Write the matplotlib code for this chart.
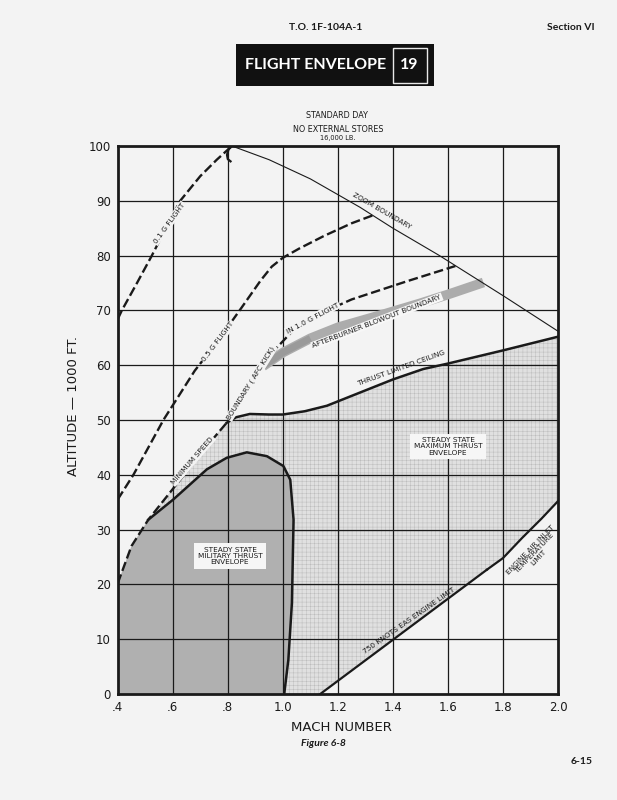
import matplotlib
matplotlib.use("Agg")
import matplotlib.pyplot as plt
from matplotlib.patches import Rectangle

# axis ticks
mach_ticks = [0.4, 0.6, 0.8, 1.0, 1.2, 1.4, 1.6, 1.8, 2.0]
mach_labels = [".4", ".6", ".8", "1.0", "1.2", "1.4", "1.6", "1.8", "2.0"]
alt_ticks = [0, 10, 20, 30, 40, 50, 60, 70, 80, 90, 100]

# curves (mach, altitude in 1000 ft)
g01_mach = [0.400, 0.415, 0.470, 0.524, 0.575, 0.627, 0.700, 0.760, 0.815]
g01_alt = [68.4, 70.0, 75.0, 80.0, 85.0, 90.0, 94.5, 97.5, 100.0]
hook_mach = [0.815, 0.803, 0.797, 0.800, 0.810]
hook_alt = [100.0, 99.4, 98.4, 97.6, 97.2]

g05_mach = [0.400, 0.457, 0.566, 0.680, 0.765, 0.850, 0.920, 0.960, 1.000, 1.060, 1.150, 1.250, 1.330]
g05_alt = [35.5, 40.0, 50.0, 59.0, 64.5, 70.5, 75.5, 78.0, 79.6, 81.3, 83.6, 85.9, 87.4]

minspd_mach = [0.400, 0.450, 0.511, 0.627, 0.720, 0.796, 0.860, 0.917, 0.980, 1.040, 1.130, 1.250, 1.450, 1.627]
minspd_alt = [20.2, 27.0, 31.8, 39.1, 45.0, 49.5, 54.5, 59.2, 63.3, 66.5, 69.3, 72.0, 75.3, 78.1]

zoom_mach = [0.815, 0.950, 1.100, 1.281, 1.400, 1.566, 1.800, 2.000]
zoom_alt = [100.0, 97.5, 94.0, 88.8, 85.0, 80.1, 72.7, 66.2]

ab_mach = [0.928, 1.000, 1.100, 1.200, 1.366, 1.500, 1.600, 1.729]
ab_alt = [59.8, 62.3, 64.9, 66.9, 69.3, 71.3, 72.9, 75.1]

ceiling_mach = [0.796, 0.830, 0.880, 0.950, 1.000, 1.080, 1.160, 1.280, 1.400, 1.510, 1.600, 1.800, 2.000]
ceiling_alt = [49.5, 50.5, 51.1, 51.0, 51.0, 51.6, 52.6, 55.0, 57.4, 59.3, 60.3, 62.7, 65.2]

mil_mach = [0.511, 0.602, 0.724, 0.796, 0.869, 0.942, 1.002, 1.027, 1.039, 1.033, 1.020, 1.005]
mil_alt = [31.8, 35.5, 41.0, 43.1, 44.1, 43.4, 41.6, 39.1, 31.8, 16.6, 6.2, 0.0]

eas_mach = [1.136, 1.742]
eas_alt = [0.0, 22.7]
inlet_mach = [1.742, 1.800, 1.870, 1.940, 2.000]
inlet_alt = [22.7, 24.8, 28.5, 32.0, 35.2]

PAGE = "#f3f3f3"
INK = "#1a1a1a"

fig = plt.figure(figsize=(6.17, 8), dpi=100, facecolor=PAGE)
ax = fig.add_axes([0.1908, 0.1325, 0.7136, 0.685])
ax.set_facecolor(PAGE)
ax.set_xlim(0.4, 2.0)
ax.set_ylim(0, 100)

# envelope fills
plt.rcParams["hatch.linewidth"] = 0.35
max_x = minspd_mach[2:6] + ceiling_mach[1:] + inlet_mach[::-1] + eas_mach[::-1] + mil_mach[::-1]
max_y = minspd_alt[2:6] + ceiling_alt[1:] + inlet_alt[::-1] + eas_alt[::-1] + mil_alt[::-1]
ax.fill(max_x, max_y, facecolor="#e0e0e0", edgecolor="#bdbdbd", hatch="++++", linewidth=0, zorder=1)
mil_x = [0.4] + minspd_mach[0:3] + mil_mach[1:]
mil_y = [0.0] + minspd_alt[0:3] + mil_alt[1:]
ax.fill(mil_x, mil_y, facecolor="#b0b0b0", linewidth=0, zorder=1.1)

# grid
for m in mach_ticks[1:-1]:
    ax.axvline(m, color=INK, lw=0.9, zorder=2)
for a in alt_ticks[1:-1]:
    ax.axhline(a, color=INK, lw=0.9, zorder=2)

# afterburner blowout band (darker where it leaves the minimum speed line)
ax.plot(ab_mach, ab_alt, color="#acacac", lw=7, solid_capstyle="butt", zorder=2.5)
ax.plot(ab_mach[:3], ab_alt[:3], color="#9a9a9a", lw=5, solid_capstyle="butt", zorder=2.6)

# boundaries
dash = dict(color=INK, lw=1.7, dashes=(4, 1.6), zorder=3)
ax.plot(g01_mach, g01_alt, **dash)
ax.plot(g05_mach, g05_alt, **dash)
ax.plot(minspd_mach, minspd_alt, **dash)
ax.plot(hook_mach, hook_alt, color=INK, lw=1.6, zorder=3)
ax.plot(zoom_mach, zoom_alt, color=INK, lw=0.8, zorder=3)
ax.plot(ceiling_mach, ceiling_alt, color=INK, lw=1.8, zorder=3)
ax.plot(mil_mach, mil_alt, color=INK, lw=1.8, zorder=3)
ax.plot(eas_mach, eas_alt, color=INK, lw=1.6, zorder=3)
ax.plot(inlet_mach, inlet_alt, color=INK, lw=1.6, zorder=3)

# labels on the chart
lab = dict(fontsize=5.3, color=INK, ha="center", va="center", zorder=5)
box = dict(facecolor=PAGE, edgecolor="none", pad=0.8)
ax.text(0.587, 85.9, "0.1 G FLIGHT", rotation=54, bbox=box, **lab)
ax.text(0.765, 64.3, "0.5 G FLIGHT", rotation=53, bbox=box, **lab)
ax.text(0.672, 42.6, "MINIMUM SPEED", rotation=49, bbox=box, **lab)
ax.text(0.885, 56.8, "BOUNDARY ( AFC KICK)", rotation=58, bbox=box, **lab)
ax.text(1.108, 68.6, "IN 1.0 G FLIGHT", rotation=28, bbox=box, **lab)
ax.text(1.36, 88.2, "ZOOM BOUNDARY", rotation=-30, **lab)
ax.text(1.342, 68.0, "AFTERBURNER BLOWOUT BOUNDARY", rotation=21,
        bbox=dict(facecolor="#f7f7f7", edgecolor="none", pad=0.8), **lab)
ax.text(1.428, 59.4, "THRUST LIMITED CEILING", rotation=20, **lab)
ax.text(1.46, 13.4, "750 KNOTS EAS ENGINE LIMIT", rotation=35, **lab)
ax.text(1.915, 25.6, "ENGINE AIR INLET\nTEMPERATURE\nLIMIT", rotation=46,
        linespacing=1.0, **lab)
ax.text(1.60, 45.2, "STEADY STATE\nMAXIMUM THRUST\nENVELOPE", linespacing=1.05,
        bbox=dict(facecolor="#f6f6f6", edgecolor="none", pad=2.5), **lab)
ax.text(0.808, 25.2, "STEADY STATE\nMILITARY THRUST\nENVELOPE", linespacing=1.05,
        bbox=dict(facecolor="#f6f6f6", edgecolor="none", pad=2.5), **lab)

# axes
for s in ax.spines.values():
    s.set_linewidth(2.0)
    s.set_color(INK)
    s.set_zorder(4)
ax.set_xticks(mach_ticks)
ax.set_xticklabels(mach_labels)
ax.set_yticks(alt_ticks)
ax.tick_params(length=0, labelsize=8.5, colors=INK, pad=5)
ax.set_xlabel("MACH NUMBER", fontsize=9.5, color=INK)
ax.xaxis.set_label_coords(0.508, -0.05)
ax.set_ylabel("ALTITUDE \u2014 1000 FT.", fontsize=9.5, color=INK)
ax.yaxis.set_label_coords(-0.086, 0.525)

# page furniture
fig.text(326 / 617, 1 - 28 / 800, "T.O. 1F-104A-1", fontsize=7.5, family="Lato",
         weight="bold", ha="center", va="center", color=INK)
fig.text(571 / 617, 1 - 27 / 800, "Section VI", fontsize=7.5, family="Lato",
         weight="bold", ha="center", va="center", color=INK)
fig.patches.append(Rectangle((236 / 617, 1 - 86 / 800), 198 / 617, 41.7 / 800,
                             transform=fig.transFigure, facecolor="#111111", edgecolor="none"))
fig.patches.append(Rectangle((392.7 / 617, 1 - 83 / 800), 34 / 617, 35.3 / 800,
                             transform=fig.transFigure, facecolor="none", edgecolor="#e8e8e8", lw=1))
fig.text(315.7 / 617, 1 - 65 / 800, "FLIGHT ENVELOPE", fontsize=11.5, family="Lato",
         weight="bold", ha="center", va="center", color="white")
fig.text(409.7 / 617, 1 - 65 / 800, "19", fontsize=11.5, family="Lato",
         weight="bold", ha="center", va="center", color="white")
fig.text(337 / 617, 1 - 115 / 800, "STANDARD DAY", fontsize=5.8, ha="center", va="center", color=INK)
fig.text(338 / 617, 1 - 130 / 800, "NO EXTERNAL STORES", fontsize=5.8, ha="center", va="center", color=INK)
fig.text(338 / 617, 1 - 138 / 800, "16,000 LB.", fontsize=4.8, ha="center", va="center", color=INK)
fig.text(323 / 617, 1 - 744 / 800, "Figure 6-8", fontsize=7.5, family="Lato",
         weight="bold", style="italic", ha="center", va="center", color=INK)
fig.text(582 / 617, 1 - 761 / 800, "6-15", fontsize=7.5, family="Lato",
         weight="bold", ha="center", va="center", color=INK)

fig.savefig("out.png", dpi=100, facecolor=PAGE)
